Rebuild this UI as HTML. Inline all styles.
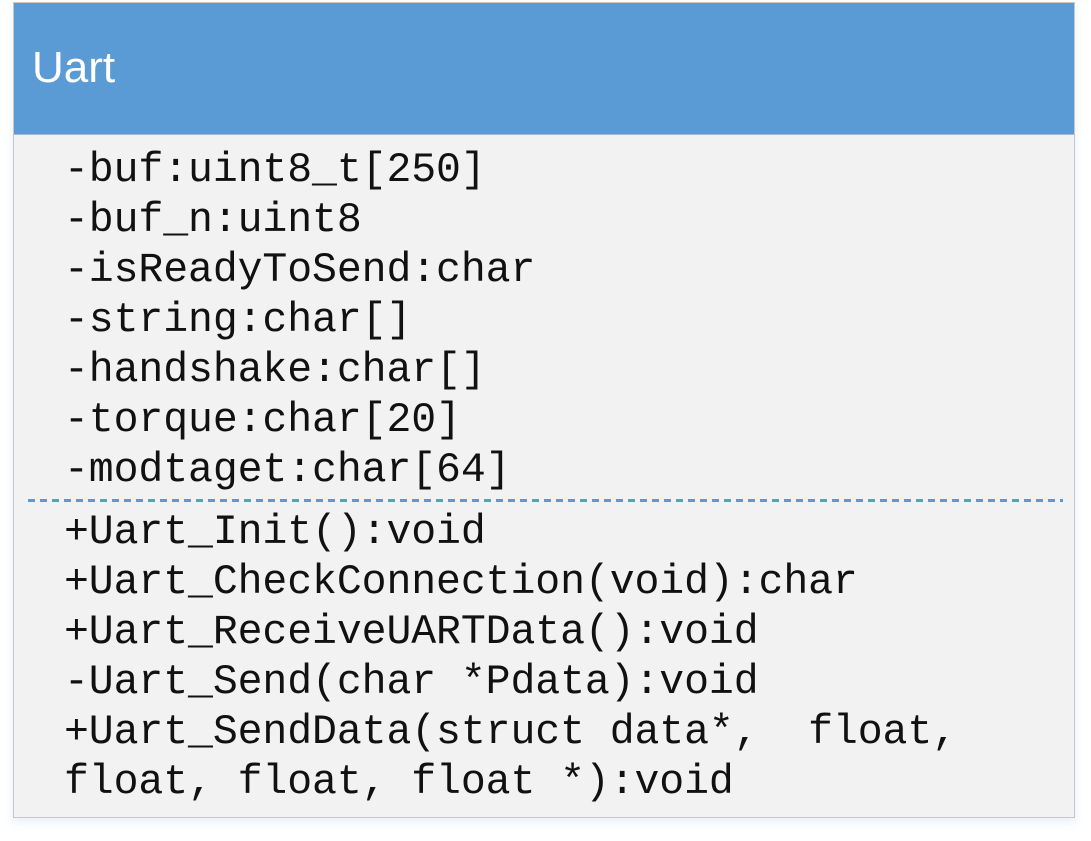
<!DOCTYPE html>
<html><head><style>
body{margin:0;width:1091px;height:841px;background:#fff;position:relative;overflow:hidden}
.box{position:absolute;left:13px;top:2px;width:1060px;height:814px;background:#f2f2f2;border:1px solid #c8c8c8;box-shadow:0 4px 8px rgba(91,155,213,0.15)}
.hdr{position:absolute;left:0;top:0;width:1060px;height:131px;background:#5b9bd5;border-bottom:1px solid #a9b9c9}
.t{position:absolute;left:18px;top:40px;font:44px "Liberation Sans",sans-serif;color:#fff}
.m{position:absolute;left:50px;font:41.5px/50px "Liberation Mono",monospace;color:#111;white-space:pre;letter-spacing:-0.1px}
.d{position:absolute;left:14px;top:496px;width:1035px;height:3px;background:repeating-linear-gradient(90deg,#5b9bd5 0 7px,transparent 7px 12px)}
</style></head><body>
<div class="box">
<div class="hdr"><div class="t">Uart</div></div>
<div class="m" style="top:143px">-buf:uint8_t[250]
-buf_n:uint8
-isReadyToSend:char
-string:char[]
-handshake:char[]
-torque:char[20]
-modtaget:char[64]</div>
<div class="d"></div>
<div class="m" style="top:505px">+Uart_Init():void
+Uart_CheckConnection(void):char
+Uart_ReceiveUARTData():void
-Uart_Send(char *Pdata):void
+Uart_SendData(struct data*,  float,
float, float, float *):void</div>
</div>
</body></html>
